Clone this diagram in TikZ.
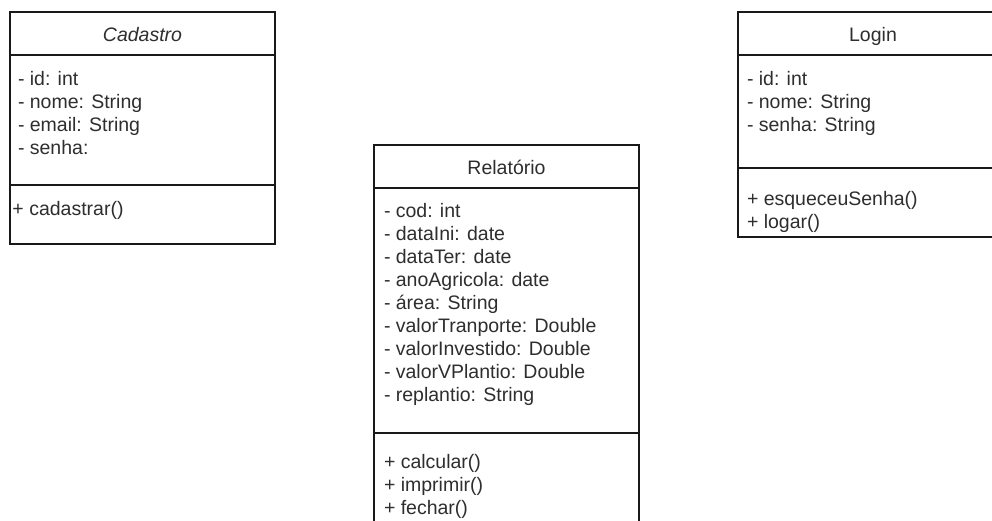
\documentclass[tikz,border=0pt]{standalone}
\usepackage{fontspec}
\setmainfont{Liberation Sans}
\begin{document}
\begin{tikzpicture}[x=1pt,y=-1pt,
  boxline/.style={draw=black!90, line width=1.1pt},
  txt/.style={inner sep=0pt, outer sep=0pt, anchor=base west, text=black!82, font=\fontsize{19.5}{23}\selectfont},
  ttl/.style={inner sep=0pt, outer sep=0pt, anchor=base, text=black!82, font=\fontsize{19.5}{23}\selectfont}]
\useasboundingbox (0,0) rectangle (992,520);
\clip (0,0) rectangle (992,520);
\fill[white] (0,0) rectangle (992,520);

% ---------- Cadastro ----------
\draw[boxline] (10,12) rectangle (275,244);
\draw[boxline] (10,55) -- (275,55);
\draw[boxline] (10,185) -- (275,185);
\node[ttl] (cadT) at (142.5,41.5) {\itshape Cadastro};
\node[txt] (cad1) at (18,85) {- id: int};
\node[txt] (cad2) at (18,108) {- nome: String};
\node[txt] (cad3) at (18,131) {- email: String};
\node[txt] (cad4) at (18,154) {- senha:};
\node[txt] (cadM1) at (12.5,215) {+ cadastrar()};

% ---------- Relatorio ----------
\draw[boxline] (374,530) -- (374,145) -- (639,145) -- (639,530);
\draw[boxline] (374,188) -- (639,188);
\draw[boxline] (374,433) -- (639,433);
\node[ttl] (relT) at (506.5,174) {Relatório};
\node[txt] (rel1) at (384,217) {- cod: int};
\node[txt] (rel2) at (384,240) {- dataIni: date};
\node[txt] (rel3) at (384,263) {- dataTer: date};
\node[txt] (rel4) at (384,286) {- anoAgricola: date};
\node[txt] (rel5) at (384,309) {- área: String};
\node[txt] (rel6) at (384,332) {- valorTranporte: Double};
\node[txt] (rel7) at (384,355) {- valorInvestido: Double};
\node[txt] (rel8) at (384,378) {- valorVPlantio: Double};
\node[txt] (rel9) at (384,401) {- replantio: String};
\node[txt] (relM1) at (384,468) {+ calcular()};
\node[txt] (relM2) at (384,491) {+ imprimir()};
\node[txt] (relM3) at (384,514) {+ fechar()};

% ---------- Login ----------
\draw[boxline] (1010,12) -- (738,12) -- (738,237) -- (1010,237);
\draw[boxline] (738,55) -- (1010,55);
\draw[boxline] (738,168) -- (1010,168);
\node[ttl] (logT) at (873,41.5) {Login};
\node[txt] (log1) at (747,85) {- id: int};
\node[txt] (log2) at (747,108) {- nome: String};
\node[txt] (log3) at (747,131) {- senha: String};
\node[txt] (logM1) at (747,205) {+ esqueceuSenha()};
\node[txt] (logM2) at (747,228) {+ logar()};
\end{tikzpicture}
\end{document}
